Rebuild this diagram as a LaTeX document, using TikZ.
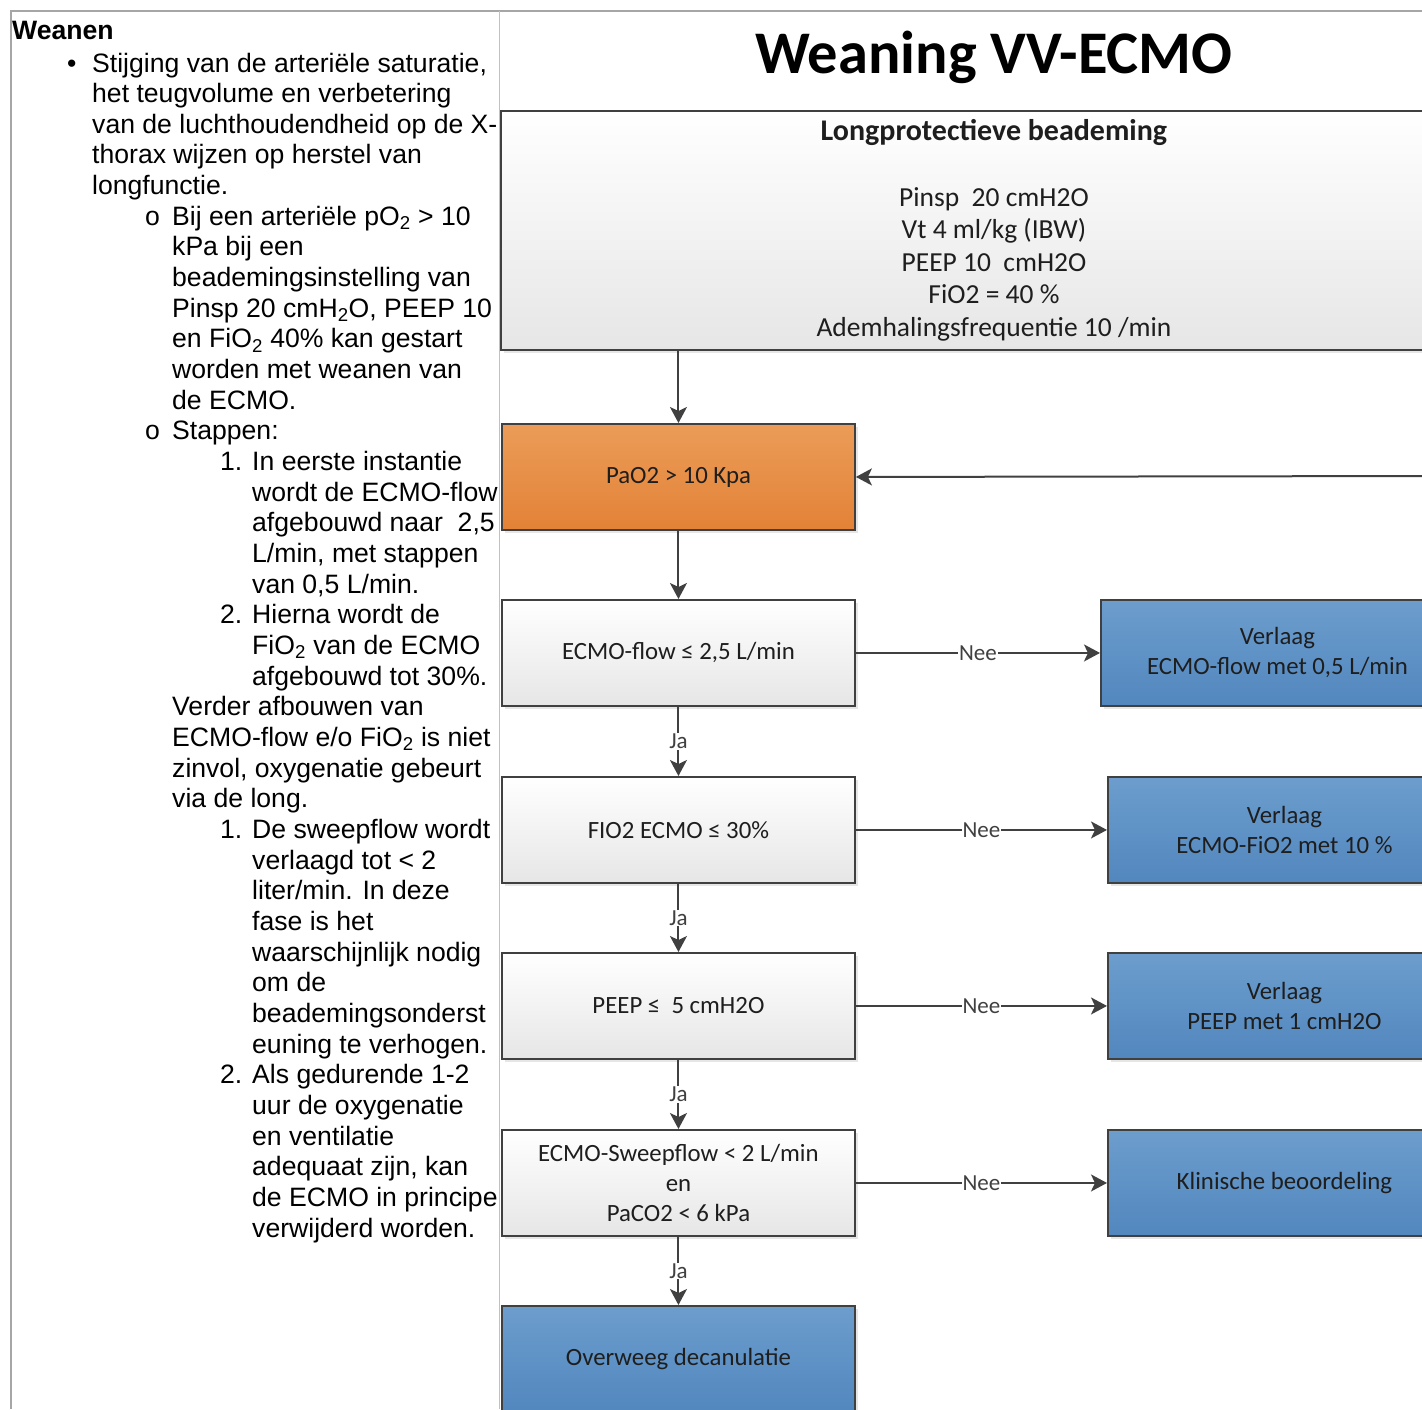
\documentclass[tikz,border=0pt]{standalone}
\usepackage{fontspec}
\setmainfont{Liberation Sans}
\newfontfamily\calfont{Carlito}
\usetikzlibrary{arrows.meta,shadows}

\definecolor{framegray}{RGB}{166,166,166}
\definecolor{edgegray}{RGB}{64,64,64}
\definecolor{orangetop}{RGB}{235,156,88}
\definecolor{orangebot}{RGB}{227,130,55}
\definecolor{bluetop}{RGB}{108,157,205}
\definecolor{bluebot}{RGB}{82,135,190}
\definecolor{graybot}{RGB}{230,230,230}
\definecolor{boxtext}{RGB}{30,30,30}

\begin{document}
\begin{tikzpicture}
[x=1pt,y=-1pt,
 box/.style={rectangle,draw=edgegray,line width=1.9pt,anchor=north west,minimum width=353pt,minimum height=106pt,inner sep=0pt,align=center,text=boxtext,font=\calfont\fontsize{24.8}{30}\selectfont,drop shadow={shadow xshift=3pt,shadow yshift=-3pt,opacity=0.2}},
 greybox/.style={box,top color=white,bottom color=graybot},
 orangebox/.style={box,top color=orangetop,bottom color=orangebot},
 bluebox/.style={box,top color=bluetop,bottom color=bluebot},
 flow/.style={draw=edgegray,line width=2pt,-{Stealth[length=16pt,width=17pt,inset=4pt]}},
 answer/.style={fill=white,inner sep=1pt,text=edgegray,font=\calfont\fontsize{23}{23}\selectfont},
 txtline/.style={anchor=base west,inner sep=0pt,font=\fontsize{26.6}{30.66}\selectfont}]

\clip (0,0) rectangle (1422,1409);

\draw[framegray,line width=2pt] (11,1409) -- (11,11) -- (1422,11);
\draw[framegray!70,line width=1pt] (499.5,11) -- (499.5,1409);

\node[txtline,font=\fontsize{26.6}{30.66}\selectfont\bfseries] (head) at (12,39) {Weanen};

\node[txtline] (dot) at (67,72) {•};
\node[txtline] (circ1) at (145,{72+30.66*5}) {o};
\node[txtline] (circ2) at (145,{72+30.66*12}) {o};
\node[txtline] (num1) at (220,{72+30.66*13}) {1.};
\node[txtline] (num2) at (220,{72+30.66*18}) {2.};
\node[txtline] (num3) at (220,{72+30.66*25}) {1.};
\node[txtline] (num4) at (220,{72+30.66*33}) {2.};

\foreach \linetext [count=\k from 0] in {{Stijging van de arteriële saturatie,},het teugvolume en verbetering,van de luchthoudendheid op de X-,thorax wijzen op herstel van,longfunctie.}
  \node[txtline] (txt\k) at (92,{72+30.66*\k}) {\linetext};

\foreach \linetext [count=\k from 5] in {Bij een arteriële pO\textsubscript{2} > 10,kPa bij een,beademingsinstelling van,{Pinsp 20 cmH\textsubscript{2}O, PEEP 10},en FiO\textsubscript{2} 40\% kan gestart,worden met weanen van,de ECMO.,Stappen:}
  \node[txtline] (txt\k) at (172,{72+30.66*\k}) {\linetext};

\foreach \linetext [count=\k from 13] in {In eerste instantie,wordt de ECMO-flow,{afgebouwd naar\ \ 2,5},{L/min, met stappen},{van 0,5 L/min.},Hierna wordt de,FiO\textsubscript{2} van de ECMO,afgebouwd tot 30\%.}
  \node[txtline] (txt\k) at (252,{72+30.66*\k}) {\linetext};

\foreach \linetext [count=\k from 21] in {Verder afbouwen van,ECMO-flow e/o FiO\textsubscript{2} is niet,{zinvol, oxygenatie gebeurt},via de long.}
  \node[txtline] (txt\k) at (172,{72+30.66*\k}) {\linetext};

\foreach \linetext [count=\k from 25] in {De sweepflow wordt,verlaagd tot < 2,liter/min. In deze,fase is het,waarschijnlijk nodig,om de,beademingsonderst,euning te verhogen.,Als gedurende 1-2,uur de oxygenatie,en ventilatie,{adequaat zijn, kan},de ECMO in principe,verwijderd worden.}
  \node[txtline] (txt\k) at (252,{72+30.66*\k}) {\linetext};

\node (title) at (994,57) {\calfont\bfseries\fontsize{60.5}{60}\selectfont Weaning VV-ECMO};

\node[greybox,minimum width=986pt,minimum height=239pt,font=\calfont\fontsize{27.5}{32.6}\selectfont] (lung) at (500,110)
  {{\fontsize{30}{32.6}\selectfont\bfseries Longprotectieve beademing}\\[32.6pt]Pinsp\ \ 20 cmH2O\\Vt 4 ml/kg (IBW)\\PEEP 10\ \ cmH2O\\FiO2 = 40 \%\\Ademhalingsfrequentie 10 /min};

\node[orangebox] (pao2) at (501,423) {PaO2 > 10 Kpa};
\node[greybox] (flow) at (501,599) {ECMO-flow ≤ 2,5 L/min};
\node[greybox] (fio2) at (501,776) {FIO2 ECMO ≤ 30\%};
\node[greybox] (peep) at (501,952) {PEEP ≤\ \ 5 cmH2O};
\node[greybox] (sweep) at (501,1129) {ECMO-Sweepflow < 2 L/min\\en\\PaCO2 < 6 kPa};
\node[bluebox] (decan) at (501,1305) {Overweeg decanulatie};

\node[bluebox] (lessflow) at (1100,599) {Verlaag\\ECMO-flow met 0,5 L/min};
\node[bluebox] (lessfio2) at (1107,776) {Verlaag\\ECMO-FiO2 met 10 \%};
\node[bluebox] (lesspeep) at (1107,952) {Verlaag\\PEEP met 1 cmH2O};
\node[bluebox] (clinic) at (1107,1129) {Klinische beoordeling};

\coordinate (back) at (1440,476);

\draw[flow] (lung.south -| pao2.north) -- (pao2.north);
\draw[flow] (back) -- (pao2.east);
\draw[flow] (pao2.south) -- (flow.north);

\draw[flow] (flow.east) -- node[answer] {Nee} (lessflow.west);
\draw[flow] (fio2.east) -- node[answer] {Nee} (lessfio2.west);
\draw[flow] (peep.east) -- node[answer] {Nee} (lesspeep.west);
\draw[flow] (sweep.east) -- node[answer] {Nee} (clinic.west);

\draw[flow] (flow.south) -- node[answer] {Ja} (fio2.north);
\draw[flow] (fio2.south) -- node[answer] {Ja} (peep.north);
\draw[flow] (peep.south) -- node[answer] {Ja} (sweep.north);
\draw[flow] (sweep.south) -- node[answer] {Ja} (decan.north);
\end{tikzpicture}
\end{document}
